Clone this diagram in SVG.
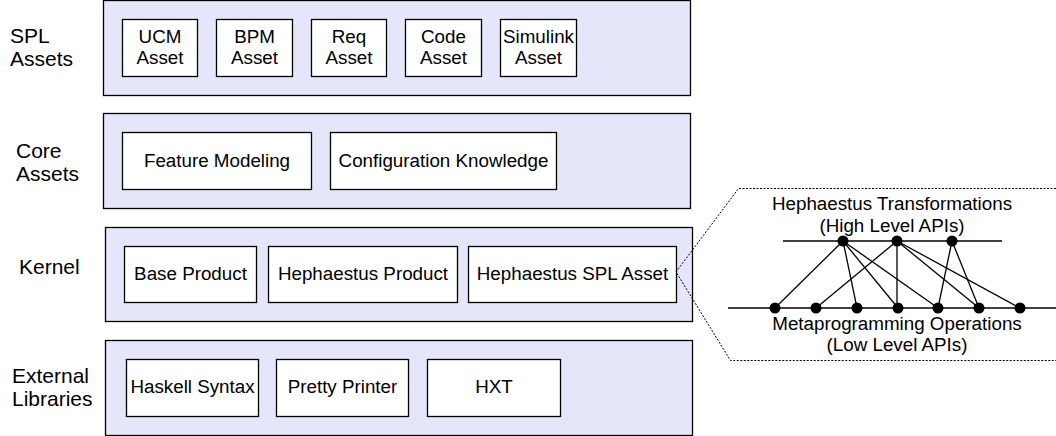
<svg xmlns="http://www.w3.org/2000/svg" width="1056" height="436" viewBox="0 0 1056 436">
<style>
text{font-family:"Liberation Sans",Arial,sans-serif;font-size:18.8px;fill:#000;text-anchor:middle}
.lbl{text-anchor:start;font-size:21px}
.layer{fill:#e6e6fa;stroke:#000;stroke-width:1.3}
.box{fill:#fff;stroke:#000;stroke-width:1.3}
.ln{stroke:#000;stroke-width:1.3;fill:none}
.dot{fill:#000}
</style>
<rect width="1056" height="436" fill="#fff"/>
<g id="spl-layer">
<rect class="layer" x="103.5" y="0.5" width="587" height="95"/>
<text class="lbl" x="10" y="43">SPL</text><text class="lbl" x="10" y="66">Assets</text>
</g>
<g id="ucm"><rect class="box" x="122.5" y="19.5" width="75" height="57"/><text x="160" y="43">UCM</text><text x="160" y="64">Asset</text></g>
<g id="bpm"><rect class="box" x="216.5" y="19.5" width="76" height="57"/><text x="254.5" y="43">BPM</text><text x="254.5" y="64">Asset</text></g>
<g id="req"><rect class="box" x="311.5" y="19.5" width="75" height="57"/><text x="349" y="43">Req</text><text x="349" y="64">Asset</text></g>
<g id="code"><rect class="box" x="405.5" y="19.5" width="76" height="57"/><text x="443.5" y="43">Code</text><text x="443.5" y="64">Asset</text></g>
<g id="simulink"><rect class="box" x="500.5" y="19.5" width="76" height="57"/><text x="538.5" y="43">Simulink</text><text x="538.5" y="64">Asset</text></g>

<g id="core-layer">
<rect class="layer" x="103.5" y="113.5" width="587" height="95"/>
<text class="lbl" x="16" y="158">Core</text><text class="lbl" x="16" y="181">Assets</text>
</g>
<g id="feature-modeling"><rect class="box" x="122.5" y="132.5" width="189" height="57"/><text x="217" y="167">Feature Modeling</text></g>
<g id="config-knowledge"><rect class="box" x="330.5" y="132.5" width="226" height="57"/><text x="443.5" y="167">Configuration Knowledge</text></g>

<g id="kernel-layer">
<rect class="layer" x="105.5" y="227.5" width="587" height="94"/>
<text class="lbl" x="19" y="274">Kernel</text>
</g>
<g id="base-product"><rect class="box" x="124.5" y="246.5" width="132" height="56"/><text x="190.5" y="280">Base Product</text></g>
<g id="heph-product"><rect class="box" x="268.5" y="246.5" width="189" height="56"/><text x="363" y="280">Hephaestus Product</text></g>
<g id="heph-spl-asset"><rect class="box" x="468.5" y="246.5" width="208" height="56"/><text x="572.5" y="280">Hephaestus SPL Asset</text></g>

<g id="ext-layer">
<rect class="layer" x="105.5" y="340.5" width="587" height="95"/>
<text class="lbl" x="12" y="383">External</text><text class="lbl" x="12" y="406">Libraries</text>
</g>
<g id="haskell-syntax"><rect class="box" x="126.5" y="359.5" width="132" height="57"/><text x="192.5" y="393">Haskell Syntax</text></g>
<g id="pretty-printer"><rect class="box" x="276.5" y="359.5" width="132" height="57"/><text x="342.5" y="393">Pretty Printer</text></g>
<g id="hxt"><rect class="box" x="427.5" y="359.5" width="133" height="57"/><text x="494" y="393">HXT</text></g>

<g id="zoom-callout">
<path d="M1056 188.5 H738.5 L676 272 L730.5 360.5 H1056" fill="none" stroke="#000" stroke-width="1" stroke-dasharray="2,1.5"/>
<text x="892" y="210">Hephaestus Transformations</text>
<text x="892" y="232">(High Level APIs)</text>
<text x="897" y="330">Metaprogramming Operations</text>
<text x="897" y="351">(Low Level APIs)</text>
</g>
<g id="connectors">
<line class="ln" x1="783" y1="241" x2="1002" y2="241"/>
<line class="ln" x1="728" y1="308" x2="1056" y2="308"/>
<line class="ln" x1="843" y1="241" x2="775" y2="308"/>
<line class="ln" x1="843" y1="241" x2="857" y2="308"/>
<line class="ln" x1="843" y1="241" x2="898" y2="308"/>
<line class="ln" x1="843" y1="241" x2="938" y2="308"/>
<line class="ln" x1="897" y1="241" x2="816" y2="308"/>
<line class="ln" x1="897" y1="241" x2="897" y2="308"/>
<line class="ln" x1="897" y1="241" x2="979" y2="308"/>
<line class="ln" x1="897" y1="241" x2="1020" y2="308"/>
<line class="ln" x1="952" y1="241" x2="938" y2="308"/>
<line class="ln" x1="952" y1="241" x2="979" y2="308"/>
</g>
<g id="dots">
<circle class="dot" cx="843" cy="241" r="5.5"/><circle class="dot" cx="897" cy="241" r="5.5"/><circle class="dot" cx="952" cy="241" r="5.5"/>
<circle class="dot" cx="775" cy="308" r="5.5"/><circle class="dot" cx="816" cy="308" r="5.5"/><circle class="dot" cx="857" cy="308" r="5.5"/><circle class="dot" cx="898" cy="308" r="5.5"/><circle class="dot" cx="938" cy="308" r="5.5"/><circle class="dot" cx="979" cy="308" r="5.5"/><circle class="dot" cx="1020" cy="308" r="5.5"/>
</g>
</svg>
